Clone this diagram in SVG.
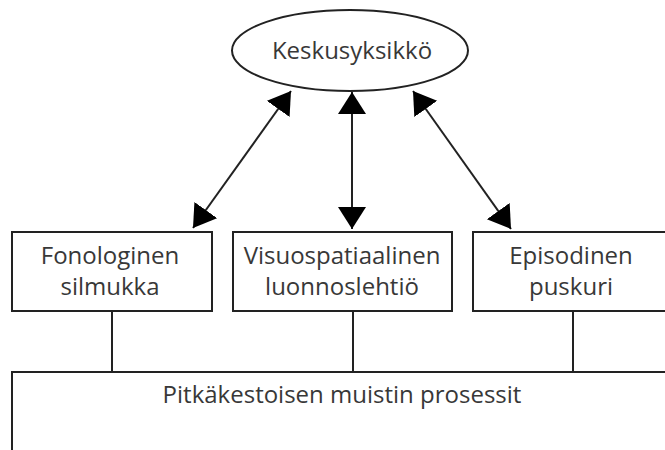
<svg xmlns="http://www.w3.org/2000/svg" width="665" height="450" viewBox="0 0 665 450">
  <style>
    .shape { fill: #ffffff; stroke: #222222; stroke-width: 2; }
    .lbl { font-family: "Open Sans", "Noto Sans", "DejaVu Sans", sans-serif; font-size: 24px; fill: #383838; text-anchor: middle; }
    .conn { stroke: #222222; stroke-width: 2; fill: none; }
  </style>
  <defs>
    <marker id="head" markerUnits="userSpaceOnUse" markerWidth="24" markerHeight="30" viewBox="0 0 24 30" refX="22" refY="14" orient="auto-start-reverse">
      <path d="M0,0 L22,14 L0,28 Z" fill="#000000"/>
    </marker>
  </defs>
  <rect width="665" height="450" fill="#ffffff"/>

  <g id="connectors">
    <line class="conn" x1="291" y1="91" x2="193" y2="228" marker-start="url(#head)" marker-end="url(#head)"/>
    <line class="conn" x1="352" y1="92" x2="352" y2="229" marker-start="url(#head)" marker-end="url(#head)"/>
    <line class="conn" x1="413" y1="91" x2="511" y2="229" marker-start="url(#head)" marker-end="url(#head)"/>
    <line class="conn" x1="112" y1="311" x2="112" y2="372"/>
    <line class="conn" x1="353" y1="311" x2="353" y2="372"/>
    <line class="conn" x1="573" y1="311" x2="573" y2="372"/>
  </g>

  <g id="keskusyksikko">
    <ellipse class="shape" cx="350" cy="50.5" rx="118" ry="40.5"/>
    <text class="lbl" x="352" y="59" font-size="25">Keskusyksikkö</text>
  </g>

  <g id="fonologinen">
    <rect class="shape" x="12" y="232" width="200" height="79"/>
    <text class="lbl" x="110" y="264">Fonologinen</text>
    <text class="lbl" x="110" y="295">silmukka</text>
  </g>

  <g id="visuospatiaalinen">
    <rect class="shape" x="233" y="232" width="219" height="79"/>
    <text class="lbl" x="342" y="264">Visuospatiaalinen</text>
    <text class="lbl" x="342" y="295">luonnoslehtiö</text>
  </g>

  <g id="episodinen">
    <rect class="shape" x="473" y="232" width="200" height="79"/>
    <text class="lbl" x="571" y="264">Episodinen</text>
    <text class="lbl" x="571" y="295">puskuri</text>
  </g>

  <g id="pitkakestoinen">
    <rect class="shape" x="12" y="372" width="670" height="90"/>
    <text class="lbl" x="342" y="403">Pitkäkestoisen muistin prosessit</text>
  </g>
</svg>
